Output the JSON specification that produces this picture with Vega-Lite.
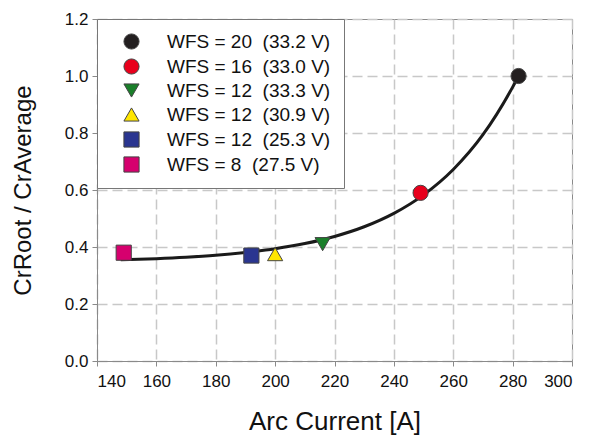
{
  "$schema": "https://vega.github.io/schema/vega-lite/v6.json",
  "width": 475,
  "height": 342,
  "autosize": "none",
  "padding": {"left": 97, "top": 19, "right": 17, "bottom": 77},
  "background": "white",
  "config": {
    "font": "Liberation Sans",
    "view": {"stroke": "#8a8a8a", "strokeWidth": 1},
    "axis": {
      "gridColor": "#c8c8c8",
      "gridDash": [10, 5],
      "gridWidth": 1.5,
      "domainColor": "#8a8a8a",
      "tickColor": "#8a8a8a",
      "tickSize": 5,
      "labelFontSize": 17,
      "labelColor": "#111",
      "titleFontWeight": "normal",
      "titleColor": "#111"
    }
  },
  "datasets": {
    "pts": [
      {"series": "WFS = 20\u00a0\u00a0(33.2 V)", "current": 282, "ratio": 1.0},
      {"series": "WFS = 16\u00a0\u00a0(33.0 V)", "current": 249, "ratio": 0.59},
      {"series": "WFS = 12\u00a0\u00a0(33.3 V)", "current": 216, "ratio": 0.41},
      {"series": "WFS = 12\u00a0\u00a0(30.9 V)", "current": 200, "ratio": 0.375},
      {"series": "WFS = 12\u00a0\u00a0(25.3 V)", "current": 192, "ratio": 0.37},
      {"series": "WFS = 8\u00a0\u00a0(27.5 V)", "current": 149, "ratio": 0.38}
    ],
    "fit": [
      {"current": 148, "ratio": 0.355},
      {"current": 160, "ratio": 0.359},
      {"current": 170, "ratio": 0.364},
      {"current": 180, "ratio": 0.371},
      {"current": 190, "ratio": 0.381},
      {"current": 200, "ratio": 0.394},
      {"current": 210, "ratio": 0.412},
      {"current": 220, "ratio": 0.437},
      {"current": 230, "ratio": 0.471},
      {"current": 240, "ratio": 0.518},
      {"current": 250, "ratio": 0.583},
      {"current": 260, "ratio": 0.672},
      {"current": 270, "ratio": 0.794},
      {"current": 280, "ratio": 0.961},
      {"current": 282, "ratio": 1.0}
    ]
  },
  "layer": [
    {
      "data": {"name": "fit"},
      "mark": {"type": "line", "color": "#1a1a1a", "strokeWidth": 3, "interpolate": "monotone"},
      "encoding": {
        "x": {"field": "current", "type": "quantitative",
              "scale": {"domain": [140, 300], "nice": false},
              "axis": {"values": [140,160,180,200,220,240,260,280,300], "title": "Arc Current [A]", "titleFontSize": 26, "titlePadding": 19, "labelPadding": 7}},
        "y": {"field": "ratio", "type": "quantitative",
              "scale": {"domain": [0, 1.2], "nice": false},
              "axis": {"values": [0,0.2,0.4,0.6,0.8,1.0,1.2], "format": ".1f", "title": "CrRoot / CrAverage", "titleFontSize": 24, "titlePadding": 29, "labelPadding": 4}}
      }
    },
    {
      "data": {"name": "pts"},
      "mark": {"type": "point", "filled": true, "size": 230, "stroke": "#444", "strokeWidth": 1, "opacity": 1},
      "encoding": {
        "x": {"field": "current", "type": "quantitative"},
        "y": {"field": "ratio", "type": "quantitative"},
        "color": {
          "field": "series", "type": "nominal",
          "scale": {
            "domain": ["WFS = 20\u00a0\u00a0(33.2 V)", "WFS = 16\u00a0\u00a0(33.0 V)", "WFS = 12\u00a0\u00a0(33.3 V)", "WFS = 12\u00a0\u00a0(30.9 V)", "WFS = 12\u00a0\u00a0(25.3 V)", "WFS = 8\u00a0\u00a0(27.5 V)"],
            "range": ["#231f20", "#e8001c", "#1a7f2a", "#ffe600", "#2a3590", "#d6006e"]
          },
          "legend": {
            "title": null,
            "orient": "top-left",
            "offset": 0,
            "padding": 13,
            "strokeColor": "#777",
            "fillColor": "white",
            "symbolSize": 230,
            "symbolOffset": 12,
            "symbolStrokeWidth": 1,
            "symbolStrokeColor": "#444",
            "labelFontSize": 19,
            "labelColor": "#111",
            "labelOffset": 26,
            "rowPadding": 4,
            "labelLimit": 300
          }
        },
        "shape": {
          "field": "series", "type": "nominal",
          "scale": {
            "domain": ["WFS = 20\u00a0\u00a0(33.2 V)", "WFS = 16\u00a0\u00a0(33.0 V)", "WFS = 12\u00a0\u00a0(33.3 V)", "WFS = 12\u00a0\u00a0(30.9 V)", "WFS = 12\u00a0\u00a0(25.3 V)", "WFS = 8\u00a0\u00a0(27.5 V)"],
            "range": ["circle", "circle", "triangle-down", "triangle-up", "square", "square"]
          }
        }
      }
    }
  ]
}
